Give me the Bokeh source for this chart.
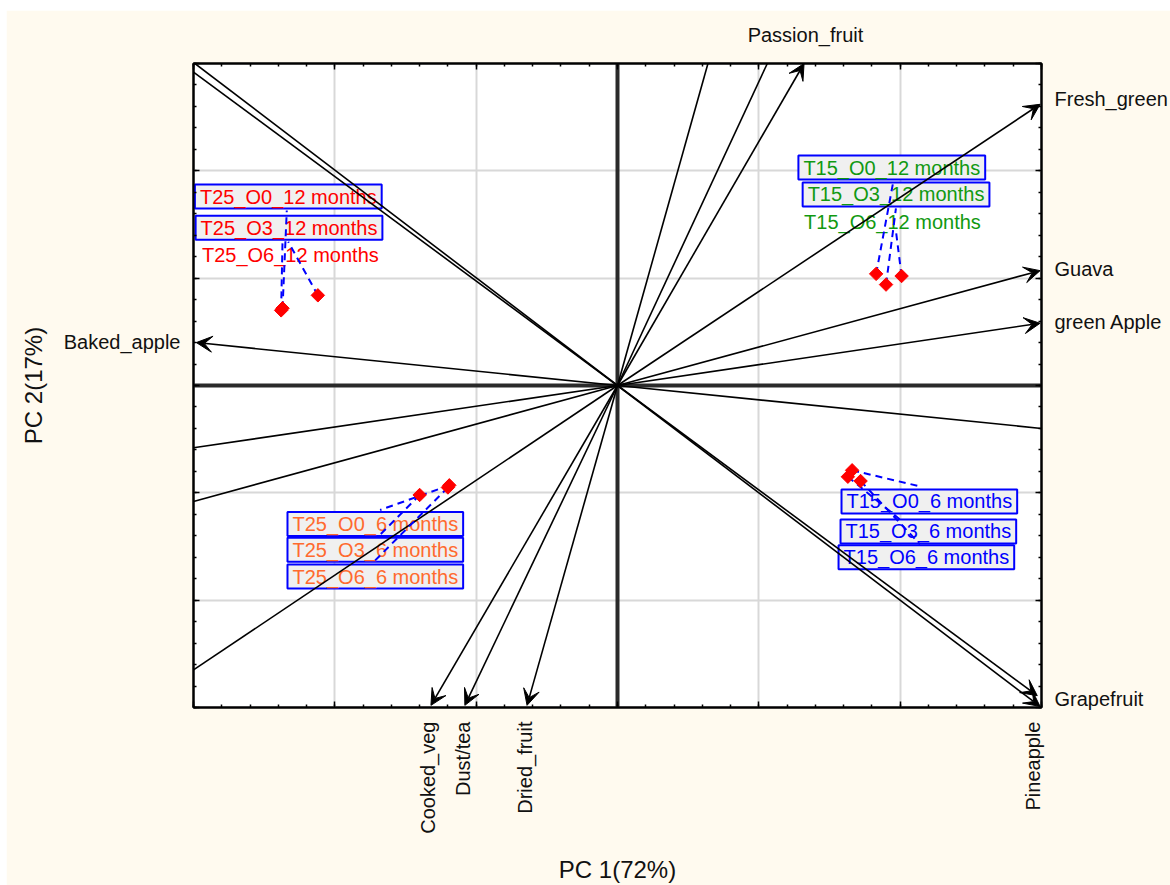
import math
from bokeh.plotting import figure
from bokeh.models import (Range1d, FixedTicker, Span, Arrow, VeeHead,
                          ColumnDataSource, LinearAxis, CustomJSTickFormatter)
from bokeh.core.properties import value
from bokeh.embed import file_html
from bokeh.resources import INLINE

# ---- variable loadings on PC1 / PC2 (labelled variables, drawn as arrows) ----
var_names = ["Passion_fruit", "Fresh_green", "Guava", "green Apple", "Grapefruit",
             "Pineapple", "Dried_fruit", "Dust/tea", "Cooked_veg", "Baked_apple"]
var_pc1 = [1.32, 2.99, 2.99, 2.99, 2.97, 2.99, -0.64, -1.08, -1.32, -2.98]
var_pc2 = [3.00, 2.62, 1.07, 0.58, -2.89, -2.99, -2.98, -2.98, -2.98, 0.40]

# unlabelled variables (plain lines)
other_pc1 = [-2.99, -3.00, 0.64, 1.06, 3.00, -3.00, -3.00, -3.00]
other_pc2 = [3.00, 2.92, 3.00, 3.00, -0.40, -0.58, -1.08, -2.65]

# ---- sample scores ----
sample_names = ["T25_O0_12 months", "T25_O3_12 months", "T25_O6_12 months",
                "T15_O0_12 months", "T15_O3_12 months", "T15_O6_12 months",
                "T25_O0_6 months", "T25_O3_6 months", "T25_O6_6 months",
                "T15_O0_6 months", "T15_O3_6 months", "T15_O6_6 months"]
sample_pc1 = [-2.37, -2.38, -2.12, 1.83, 1.90, 2.01, -1.19, -1.40, -1.20, 1.66, 1.63, 1.72]
sample_pc2 = [0.72, 0.70, 0.84, 1.04, 0.94, 1.02, -0.93, -1.02, -0.95, -0.79, -0.85, -0.89]
sample_group = ["T25_12", "T25_12", "T25_12", "T15_12", "T15_12", "T15_12",
                "T25_6", "T25_6", "T25_6", "T15_6", "T15_6", "T15_6"]

# ---- layout: label box anchors (left/middle) and leader end points ----
label_x = [-2.99, -2.985, -2.94, 1.28, 1.31, 1.32, -2.335, -2.335, -2.335, 1.585, 1.578, 1.564]
label_y = [1.76, 1.47, 1.22, 2.03, 1.78, 1.52, -1.29, -1.53, -1.78, -1.08, -1.36, -1.60]
label_boxed = [True, True, False, True, True, False, True, True, True, True, True, True]
leader_x = [-2.34, -2.37, -2.33, 1.95, 1.97, 1.97, -1.68, -1.68, -1.73, 2.14, 2.00, 2.14]
leader_y = [1.63, 1.35, 1.34, 1.89, 1.65, 1.44, -1.16, -1.39, -1.65, -0.94, -1.25, -1.48]
group_color = {"T25_12": "#ff0000", "T15_12": "#119911",
               "T25_6": "#ff6a2e", "T15_6": "#0000ff"}

# variable name placement: frame side and shift along that side (data units)
var_label_place = {
    "Passion_fruit": ("above", 0.01),
    "Fresh_green": ("right", 0.045),
    "Guava": ("right", 0.02),
    "green Apple": ("right", 0.01),
    "Grapefruit": ("right", -0.035),
    "Pineapple": ("below", -0.047),
    "Dried_fruit": ("below", -0.018),
    "Dust/tea": ("below", -0.01),
    "Cooked_veg": ("below", -0.024),
    "Baked_apple": ("left", 0.005),
}

FONT = "Liberation Sans"
BG = "#fffaef"
INK = "#111111"

p = figure(width=1164, height=875,
           x_range=Range1d(-3, 3), y_range=Range1d(-3, 3),
           output_backend="svg", toolbar_location=None,
           min_border_left=187, min_border_right=129,
           min_border_top=53, min_border_bottom=177,
           background_fill_color="white", border_fill_color=BG,
           outline_line_color="black", outline_line_width=2)
p.margin = (10, 0, 0, 6)

major = [-3, -2, -1, 0, 1, 2, 3]
minor = [round(-3 + 0.2 * i, 2) for i in range(31)]

# tick-only axes on all four sides (inward ticks, no labels)
p.add_layout(LinearAxis(), "above")
p.add_layout(LinearAxis(), "right")
for ax in list(p.axis):
    ax.ticker = FixedTicker(ticks=major, minor_ticks=minor)
    ax.formatter = CustomJSTickFormatter(code="return ''")
    ax.major_label_standoff = 0
    ax.major_label_text_font_size = "0px"
    ax.axis_line_color = "black"
    ax.axis_line_width = 2
    ax.major_tick_in = 6
    ax.major_tick_out = 0
    ax.minor_tick_in = 3
    ax.minor_tick_out = 0
    ax.major_tick_line_color = "black"
    ax.major_tick_line_width = 1.5
    ax.minor_tick_line_color = "black"
    ax.minor_tick_line_width = 1.5

# outer axes carrying the variable names
name_axes = {}
for side in ("above", "right", "below", "left"):
    pos, names = [], []
    for name, vx, vy in zip(var_names, var_pc1, var_pc2):
        s, shift = var_label_place[name]
        if s == side:
            pos.append((vx if side in ("above", "below") else vy) + shift)
            names.append(name)
    ax = LinearAxis(ticker=FixedTicker(ticks=pos, minor_ticks=[]),
                    formatter=CustomJSTickFormatter(
                        args=dict(pos=pos, names=names),
                        code="const i = pos.findIndex(v => Math.abs(v - tick) < 1e-6);"
                             "return i >= 0 ? names[i] : '';"))
    ax.axis_line_color = None
    ax.major_tick_line_color = None
    ax.minor_tick_line_color = None
    ax.major_tick_in = 0
    ax.major_tick_out = 0
    ax.minor_tick_in = 0
    ax.minor_tick_out = 0
    ax.major_label_text_font = FONT
    ax.major_label_text_font_size = "20px"
    ax.major_label_text_color = INK
    ax.axis_label_text_font = FONT
    ax.axis_label_text_font_size = "24px"
    ax.axis_label_text_font_style = "normal"
    ax.axis_label_text_color = INK
    if side == "below":
        ax.major_label_orientation = math.pi / 2
    p.add_layout(ax, side)
    name_axes[side] = ax

name_axes["right"].major_label_standoff = 13
name_axes["left"].major_label_standoff = 13
name_axes["above"].major_label_standoff = 18
name_axes["below"].major_label_standoff = 14
name_axes["below"].axis_label = "PC 1(72%)"
name_axes["below"].axis_label_standoff = 19
name_axes["left"].axis_label = "PC 2(17%)"
name_axes["left"].axis_label_standoff = 14

for g in (p.xgrid, p.ygrid):
    g.ticker = FixedTicker(ticks=[-2, -1, 1, 2])
    g.grid_line_color = "#d8d8d8"
    g.grid_line_width = 2

# thick zero axes
p.add_layout(Span(location=0, dimension="width", line_color="#2a2a2a", line_width=4, level="underlay"))
p.add_layout(Span(location=0, dimension="height", line_color="#2a2a2a", line_width=4, level="underlay"))

# sample labels (boxed and plain)
colors = [group_color[g] for g in sample_group]


def pick(seq, flag):
    return [v for v, b in zip(seq, label_boxed) if b == flag]


for flag in (True, False):
    src = ColumnDataSource(dict(x=pick(label_x, flag), y=pick(label_y, flag),
                                text=pick(sample_names, flag), color=pick(colors, flag)))
    style = dict(background_fill_color="#f0f0f0", border_line_color="#0000ff",
                 border_line_width=2, padding=(5, 1)) if flag else {}
    p.text(x="x", y="y", text="text", source=src, text_color="color",
           text_font=value(FONT), text_font_size="20px",
           text_align="left", text_baseline="middle", **style)

# unlabelled loading lines
p.segment(x0=0, y0=0, x1="x", y1="y",
          source=ColumnDataSource(dict(x=other_pc1, y=other_pc2)),
          line_color="black", line_width=1.6)

# labelled loading arrows
arrow_src = ColumnDataSource(dict(x=var_pc1, y=var_pc2))
p.add_layout(Arrow(source=arrow_src, x_start=0, y_start=0, x_end="x", y_end="y",
                   line_color="black", line_width=1.6,
                   end=VeeHead(size=16, fill_color="black", line_color="black", line_width=1)))

# leader lines from scores to their labels
p.segment(x0=sample_pc1, y0=sample_pc2, x1=leader_x, y1=leader_y,
          line_color="#0000ff", line_width=2, line_dash="7 5")

# score points
p.scatter(x=sample_pc1, y=sample_pc2, marker="square", angle=math.pi / 4,
          size=9.5, fill_color="#ff0000", line_color="#ff0000")

open("out.html", "w").write(file_html(p, INLINE))
